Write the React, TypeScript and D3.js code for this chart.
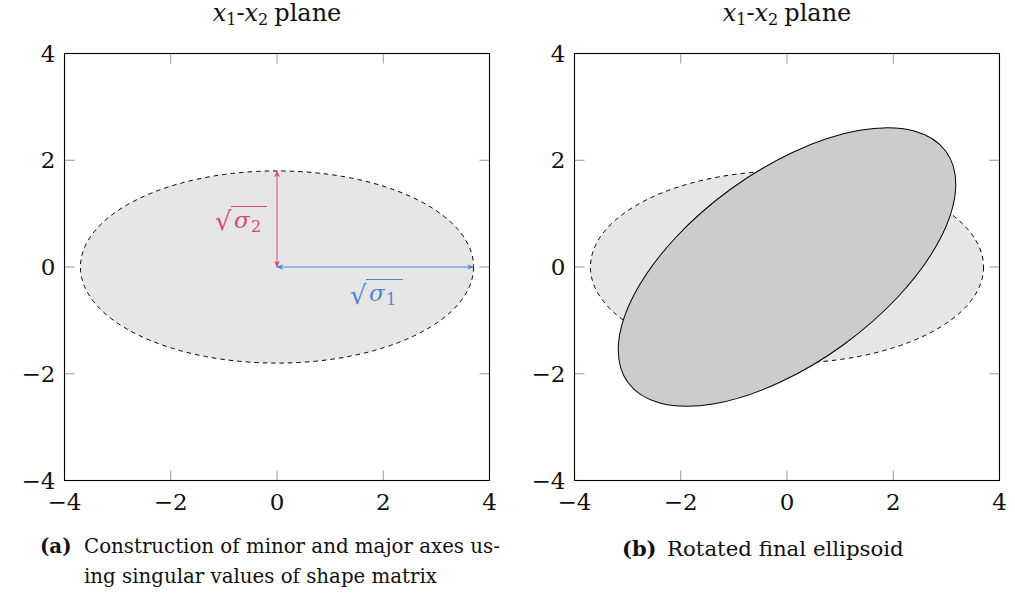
import React from "react";
import * as d3 from "d3";

const xTicks = [-4, -2, 0, 2, 4];
const yTicks = [-4, -2, 0, 2, 4];
const domain: [number, number] = [-4, 4];
const semiAxes = [3.7, 1.8]; // sqrt(sigma1), sqrt(sigma2)
const rotationDeg = 36;
const panelTitle = "plane";
const captionA = ["Construction of minor and major axes us-", "ing singular values of shape matrix"];
const captionB = "Rotated final ellipsoid";

const FONT = "DejaVu Serif";
const PINK = "#d24a7e";
const BLUE = "#4f86d4";

function fmt(v: number) {
  return v < 0 ? "\u2212" + Math.abs(v) : String(v);
}

function Title({ cx }: { cx: number }) {
  return (
    <text x={cx} y={21} textAnchor="middle" style={{ fontFamily: FONT }} fontSize={24} fill="#111">
      <tspan fontStyle="italic">x</tspan>
      <tspan fontSize={16} dy={4}>1</tspan>
      <tspan dy={-4}>-</tspan>
      <tspan fontStyle="italic">x</tspan>
      <tspan fontSize={16} dy={4}>2</tspan>
      <tspan dy={-4} dx={6}>{panelTitle}</tspan>
    </text>
  );
}

function Axes({ x, y }: { x: d3.ScaleLinear<number, number>; y: d3.ScaleLinear<number, number> }) {
  const [x0, x1] = x.range();
  const [y0, y1] = y.range();
  const tl = 10;
  return (
    <g>
      {xTicks.map((t) => (
        <g key={"xt" + t}>
          <line x1={x(t)} x2={x(t)} y1={y0} y2={y0 - tl} stroke="#999" strokeWidth={1} />
          <line x1={x(t)} x2={x(t)} y1={y1} y2={y1 + tl} stroke="#999" strokeWidth={1} />
          <text x={x(t)} y={y0 + 29} textAnchor="middle" style={{ fontFamily: FONT }} fontSize={23} fill="#111">
            {fmt(t)}
          </text>
        </g>
      ))}
      {yTicks.map((t) => (
        <g key={"yt" + t}>
          <line x1={x0} x2={x0 + tl} y1={y(t)} y2={y(t)} stroke="#999" strokeWidth={1} />
          <line x1={x1} x2={x1 - tl} y1={y(t)} y2={y(t)} stroke="#999" strokeWidth={1} />
          <text x={x0 - 9} y={y(t) + 8} textAnchor="end" style={{ fontFamily: FONT }} fontSize={23} fill="#111">
            {fmt(t)}
          </text>
        </g>
      ))}
      <rect x={x0} y={y1} width={x1 - x0} height={y0 - y1} fill="none" stroke="#000" strokeWidth={1.1} />
    </g>
  );
}

export default function App() {
  const xa = d3.scaleLinear().domain(domain).range([64.5, 489.5]);
  const ya = d3.scaleLinear().domain(domain).range([480.5, 53.5]);
  const xb = d3.scaleLinear().domain(domain).range([574.5, 999.5]);
  const yb = ya;

  const [a, b] = semiAxes;
  const rxA = xa(a) - xa(0);
  const ryA = ya(0) - ya(b);
  const rxB = xb(a) - xb(0);
  const ryB = yb(0) - yb(b);

  return (
    <svg
      width={1015}
      height={602}
      style={{ position: "absolute", left: 0, top: 0, background: "#fff" }}
    >
      <defs>
        <marker id="ap" viewBox="0 0 10 10" refX="9" refY="5" markerWidth="7" markerHeight="7" orient="auto-start-reverse" markerUnits="userSpaceOnUse">
          <path d="M0,1 L10,5 L0,9 L3,5 Z" fill={PINK} />
        </marker>
        <marker id="ab" viewBox="0 0 10 10" refX="9" refY="5" markerWidth="7" markerHeight="7" orient="auto-start-reverse" markerUnits="userSpaceOnUse">
          <path d="M0,1 L10,5 L0,9 L3,5 Z" fill={BLUE} />
        </marker>
      </defs>

      {/* Panel (a) */}
      <Title cx={(xa.range()[0] + xa.range()[1]) / 2} />
      <ellipse cx={xa(0)} cy={ya(0)} rx={rxA} ry={ryA} fill="#e6e6e6" stroke="#000" strokeWidth={1} strokeDasharray="4.5 4" />
      <line x1={xa(0)} y1={ya(0)} x2={xa(0)} y2={ya(b)} stroke={PINK} strokeWidth={1} markerStart="url(#ap)" markerEnd="url(#ap)" />
      <line x1={xa(0)} y1={ya(0)} x2={xa(a)} y2={ya(0)} stroke={BLUE} strokeWidth={1} markerStart="url(#ab)" markerEnd="url(#ab)" />
      {/* sqrt(sigma2) label */}
      <g fill={PINK} style={{ fontFamily: FONT }}>
        <text x={215} y={230} fontSize={26}>√</text>
        <line x1={231} x2={267} y1={206.5} y2={206.5} stroke={PINK} strokeWidth={1.2} />
        <text x={234} y={228} fontSize={23} fontStyle="italic">σ</text>
        <text x={251} y={232} fontSize={16}>2</text>
      </g>
      {/* sqrt(sigma1) label */}
      <g fill={BLUE} style={{ fontFamily: FONT }}>
        <text x={350} y={304} fontSize={26}>√</text>
        <line x1={366} x2={403} y1={279.5} y2={279.5} stroke={BLUE} strokeWidth={1.2} />
        <text x={369} y={301} fontSize={23} fontStyle="italic">σ</text>
        <text x={386} y={305} fontSize={16}>1</text>
      </g>
      <Axes x={xa} y={ya} />

      {/* Panel (b) */}
      <Title cx={(xb.range()[0] + xb.range()[1]) / 2} />
      <ellipse cx={xb(0)} cy={yb(0)} rx={rxB} ry={ryB} fill="#e6e6e6" stroke="#000" strokeWidth={1} strokeDasharray="4.5 4" />
      <ellipse
        cx={xb(0)}
        cy={yb(0)}
        rx={rxB}
        ry={ryB}
        transform={`rotate(${-rotationDeg} ${xb(0)} ${yb(0)})`}
        fill="#cccccc"
        stroke="#000"
        strokeWidth={1}
      />
      <Axes x={xb} y={yb} />

      {/* Captions */}
      <g style={{ fontFamily: FONT }} fontSize={19.8} fill="#111">
        <text x={40} y={553} fontWeight="bold">(a)</text>
        <text x={84} y={553}>{captionA[0]}</text>
        <text x={84} y={583}>{captionA[1]}</text>
        <text x={622} y={556} fontWeight="bold" fontSize={21}>(b)</text>
        <text x={667} y={556} fontSize={21.3}>{captionB}</text>
      </g>
    </svg>
  );
}
